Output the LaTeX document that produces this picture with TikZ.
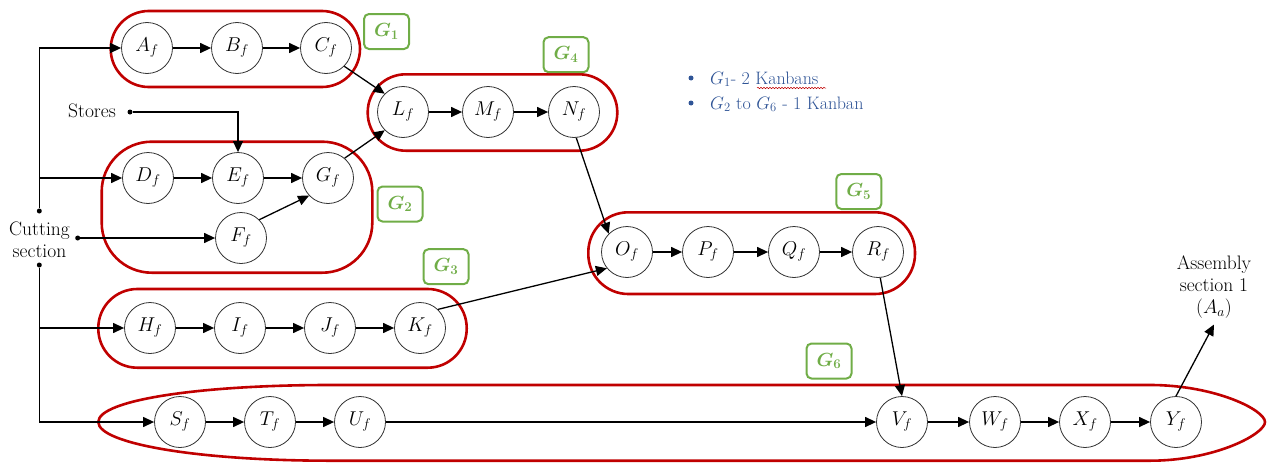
\RequirePackage{fix-cm}
\documentclass[tikz,border=0pt]{standalone}
\usepackage{amsmath,bm}
\usepackage{fontspec}
\usetikzlibrary{arrows.meta,decorations.pathmorphing}
\definecolor{grpred}{RGB}{192,0,0}
\definecolor{taggreen}{RGB}{112,173,71}
\definecolor{noteblue}{RGB}{47,84,150}
\begin{document}
\begin{tikzpicture}[x=1pt,y=-1pt,
  stn/.style={circle,draw=black!80,line width=0.8pt,fill=white,minimum size=51pt,
    inner sep=0pt,font=\fontsize{20}{24}\selectfont},
  grp/.style={draw=grpred,line width=2.6pt},
  tag/.style={draw=taggreen,line width=2pt,rounded corners=5pt,minimum width=45pt,
    minimum height=35pt,inner sep=0pt,text=taggreen,font=\fontsize{19}{22}\selectfont},
  flow/.style={draw=black,line width=1.3pt,-{Triangle[length=11pt,width=10pt]}},
  lbl/.style={font=\fontsize{19.5}{22}\selectfont,align=center,inner sep=0pt},
  dotp/.style={circle,fill=black,inner sep=0pt,minimum size=5pt},
  bullet/.style={circle,fill=noteblue,inner sep=0pt,minimum size=5pt},
  leg/.style={font=\fontsize{18}{22}\selectfont,text=noteblue,inner sep=0pt},
]
\useasboundingbox (0,0) rectangle (1269,463);

% group outlines
\draw[grp,rounded corners=38pt] (110.7,11) rectangle (360,87);
\draw[grp,rounded corners=50pt] (101.7,141.7) rectangle (372.3,272.7);
\draw[grp,rounded corners=39pt] (98.3,289) rectangle (466.7,367.7);
\draw[grp,rounded corners=38pt] (367.7,74.3) rectangle (617.3,150.7);
\draw[grp,rounded corners=40pt] (588.3,212.3) rectangle (915,294);
\draw[grp] (98.3,422) .. controls (98.3,400) and (200,385) .. (330,385)
  -- (1150,385) .. controls (1215,385) and (1265,410) .. (1265,422)
  .. controls (1265,434) and (1215,460.7) .. (1150,460.7)
  -- (330,460.7) .. controls (200,460.7) and (98.3,444) .. cycle;

% group tags
\node[tag] (t1) at (386.5,31.5) {$\bm{G_1}$};
\node[tag] (t2) at (400,204) {$\bm{G_2}$};
\node[tag] (t3) at (446,266.7) {$\bm{G_3}$};
\node[tag] (t4) at (566,54.7) {$\bm{G_4}$};
\node[tag] (t5) at (858.8,191.5) {$\bm{G_5}$};
\node[tag] (t6) at (829,361) {$\bm{G_6}$};

% stations
\node[stn] (A) at (147,48) {$A_f$};
\node[stn] (B) at (237,48) {$B_f$};
\node[stn] (C) at (326,48) {$C_f$};
\node[stn] (D) at (148,178) {$D_f$};
\node[stn] (E) at (238,178) {$E_f$};
\node[stn] (G) at (328,178) {$G_f$};
\node[stn] (F) at (241,238) {$F_f$};
\node[stn] (L) at (403,112) {$L_f$};
\node[stn] (M) at (488,112) {$M_f$};
\node[stn] (N) at (574,112) {$N_f$};
\node[stn] (O) at (627,252) {$O_f$};
\node[stn] (P) at (708,252) {$P_f$};
\node[stn] (Q) at (794,252) {$Q_f$};
\node[stn] (R) at (878,252) {$R_f$};
\node[stn] (H) at (150,328) {$H_f$};
\node[stn] (I) at (240,328) {$I_f$};
\node[stn] (J) at (330,328) {$J_f$};
\node[stn] (K) at (420,328) {$K_f$};
\node[stn] (S) at (180,422) {$S_f$};
\node[stn] (T) at (270,422) {$T_f$};
\node[stn] (U) at (360,422) {$U_f$};
\node[stn] (V) at (902,422) {$V_f$};
\node[stn] (W) at (995,422) {$W_f$};
\node[stn] (X) at (1085,422) {$X_f$};
\node[stn] (Y) at (1176,422) {$Y_f$};

% sources and sink
\node[lbl,anchor=east] (stores) at (116,111) {Stores};
\node[dotp] (sdot) at (130,112) {};
\node[lbl] (cut) at (39.5,240) {Cutting\\section};
\node[dotp] (ctop) at (39.3,211) {};
\node[dotp] (cbot) at (39.3,265) {};
\node[dotp] (cright) at (77.7,238) {};
\node[lbl] (asm) at (1214,287) {Assembly\\section 1\\$(A_a)$};

% material flow
\draw[flow] (ctop) |- (A);
\draw[flow] (ctop) |- (D);
\draw[flow] (cright) -- (F);
\draw[flow] (cbot) |- (H);
\draw[flow] (cbot) |- (S);
\draw[flow] (sdot) -| (E);
\draw[flow] (A) -- (B);
\draw[flow] (B) -- (C);
\draw[flow] (C.-45) -- (L.135);
\draw[flow] (D) -- (E);
\draw[flow] (E) -- (G);
\draw[flow] (F.45) -- (G.223);
\draw[flow] (G.50) -- (L.225);
\draw[flow] (L) -- (M);
\draw[flow] (M) -- (N);
\draw[flow] (N.-85) -- (O.135);
\draw[flow] (K.46) -- (O.219);
\draw[flow] (O) -- (P);
\draw[flow] (P) -- (Q);
\draw[flow] (Q) -- (R);
\draw[flow] (R.-85) -- (V.north);
\draw[flow] (H) -- (I);
\draw[flow] (I) -- (J);
\draw[flow] (J) -- (K);
\draw[flow] (S) -- (T);
\draw[flow] (T) -- (U);
\draw[flow] (U) -- (V);
\draw[flow] (V) -- (W);
\draw[flow] (W) -- (X);
\draw[flow] (X) -- (Y);
\draw[flow] (Y.north) -- ([yshift=-6pt]asm.south);

% kanban note
\node[bullet] (b1) at (691,78) {};
\node[bullet] (b2) at (691,103) {};
\node[leg,anchor=base west] (l1) at (710,84) {$G_1$- 2 Kanbans};
\node[leg,anchor=base west] (l2) at (710,109) {$G_2$ to $G_6$ - 1 Kanban};
\draw[grpred,line width=0.5pt,decorate,decoration={snake,amplitude=0.7pt,segment length=3pt}]
  (757,88) -- (826,88);
\end{tikzpicture}
\end{document}
